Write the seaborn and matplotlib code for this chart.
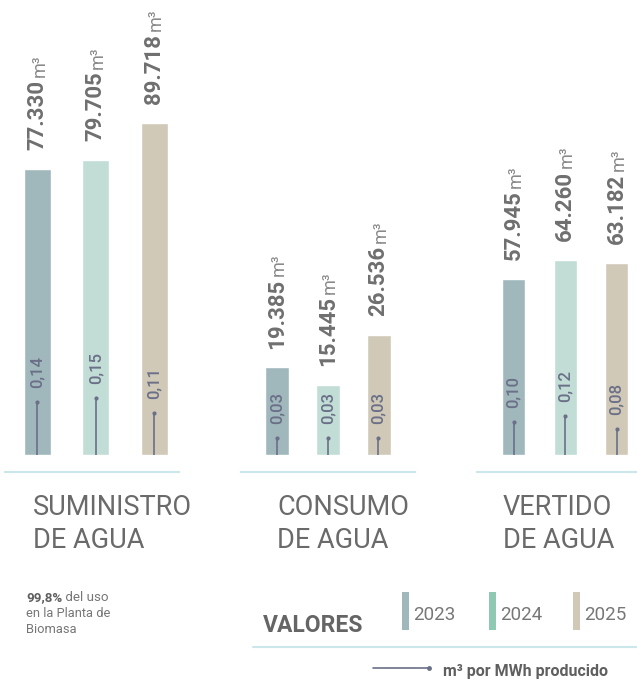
import matplotlib
matplotlib.use("Agg")
import matplotlib.pyplot as plt
import seaborn as sns
import pandas as pd
from matplotlib.patches import Rectangle
from matplotlib.lines import Line2D
from matplotlib.text import Annotation

# ---------------- data ----------------
years = ["2023", "2024", "2025"]
group_titles = ["SUMINISTRO\nDE AGUA", "CONSUMO\nDE AGUA", "VERTIDO\nDE AGUA"]
suministro_m3 = [77330, 79705, 89718]
consumo_m3 = [19385, 15445, 26536]
vertido_m3 = [57945, 64260, 63182]
suministro_mwh = [0.14, 0.15, 0.11]
consumo_mwh = [0.03, 0.03, 0.03]
vertido_mwh = [0.10, 0.12, 0.08]
note_bold = "99,8%"
note_rest = [" del uso", "en la Planta de", "Biomasa"]
legend_title = "VALORES"
legend_line_label = "m³ por MWh producido"

bar_colors = ["#a0b7bb", "#c1ddd5", "#d0c9b8"]
legend_colors = ["#a0b7bb", "#8fc8b3", "#d0c9b8"]
line_color = "#6b7088"
value_color = "#6f6f6f"
title_color = "#6a6a6a"
base_color = "#cbe7ea"

W, H = 637, 682
sns.set_theme(style="white")
plt.rcParams["font.family"] = ["Roboto", "DejaVu Sans"]

fig = plt.figure(figsize=(W / 100, H / 100), dpi=100)
fig.patch.set_facecolor("white")


def fx(px):
    return px / W


def fy(py):
    return 1 - py / H


layouts = [
    dict(left=5, right=179, centers=(37.5, 95, 154), bw=27, scale=270, k=0.00262, title_x=33),
    dict(left=241, right=415, centers=(277, 328.5, 378.5), bw=24, scale=221, k=0.00176, title_x=277),
    dict(left=477, right=637, centers=(513.5, 565.5, 616.5), bw=23, scale=329, k=0.00305, title_x=503),
]
volumes = [suministro_m3, consumo_m3, vertido_m3]
ratios = [suministro_mwh, consumo_mwh, vertido_mwh]

bottom_px = 472
zero_px = 455
pad_px = bottom_px - zero_px

for lay, vols, rats, title in zip(layouts, volumes, ratios, group_titles):
    c0, c1, c2 = lay["centers"]
    u = (c2 - c0) / 2
    ax = fig.add_axes([fx(lay["left"]), fy(bottom_px), fx(lay["right"] - lay["left"]), bottom_px / H])
    df = pd.DataFrame({"year": years, "value": vols})
    sns.barplot(data=df, x="year", y="value", hue="year", palette=bar_colors,
                legend=False, width=lay["bw"] / u, ax=ax, saturation=1)
    ax.set_xlim(-(c0 - lay["left"]) / u, 2 + (lay["right"] - c2) / u)
    s = lay["scale"]
    ax.set_ylim(-pad_px * s, zero_px * s)
    for sp in ["top", "left", "right"]:
        ax.spines[sp].set_visible(False)
    ax.spines["bottom"].set_color(base_color)
    ax.spines["bottom"].set_linewidth(1.5)
    ax.set_xticks([])
    ax.set_yticks([])
    ax.set_xlabel("")
    ax.set_ylabel("")
    ax.patch.set_alpha(0)

    for i, v in enumerate(vols):
        t = ax.annotate(f"{v:,}".replace(",", "."), xy=(i, v), xytext=(0, 13.5),
                        textcoords="offset points", rotation=90, ha="center", va="bottom",
                        fontsize=16, fontweight="bold", color=value_color)
        ax.annotate("m³", xy=(0.6, 1), xycoords=t, xytext=(0, 2),
                    textcoords="offset points", rotation=90, ha="center", va="bottom",
                    fontsize=13, fontweight="normal", color="#8a8a8a")

    ax2 = ax.twinx()
    k = lay["k"]
    ax2.set_ylim(-pad_px * k, zero_px * k)
    ax2.set_xlim(ax.get_xlim())
    xs = [0, 1, 2]
    ax2.vlines(xs, 0, rats, color=line_color, linewidth=1.2)
    ax2.scatter(xs, rats, s=9, color=line_color, zorder=3, linewidths=0)
    for i, r in enumerate(rats):
        ax2.annotate(f"{r:.2f}".replace(".", ","), xy=(i, r), xytext=(0, 10),
                     textcoords="offset points", rotation=90, ha="center", va="bottom",
                     fontsize=12, fontweight="medium", color=line_color)
    for sp in ax2.spines.values():
        sp.set_visible(False)
    ax2.set_yticks([])
    ax2.patch.set_alpha(0)

    for j, line in enumerate(title.split("\n")):
        fig.text(fx(lay["title_x"]), fy(515 + 33 * j), line, ha="left", va="baseline",
                 fontsize=19.5, fontweight="normal", color=title_color)

# note bottom-left
nb = fig.text(fx(26), fy(601), note_bold, ha="left", va="baseline", fontsize=9.6,
              fontweight="bold", color="#5e5e5e")
fig.add_artist(Annotation(note_rest[0], xy=(1, 0), xycoords=nb, xytext=(0, 0),
                          textcoords="offset points", ha="left", va="bottom",
                          fontsize=9.6, fontweight="normal", color="#767676"))
fig.text(fx(26), fy(617), note_rest[1], ha="left", va="baseline", fontsize=9.3,
         fontweight="normal", color="#767676")
fig.text(fx(26), fy(633), note_rest[2], ha="left", va="baseline", fontsize=9.3,
         fontweight="normal", color="#767676")

# legend
fig.text(fx(263), fy(632), legend_title, ha="left", va="baseline", fontsize=16.5,
         fontweight="bold", color="#656565")
leg_patch_x = [402, 489, 573]
for px, col, yr in zip(leg_patch_x, legend_colors, years):
    fig.add_artist(Rectangle((fx(px), fy(630)), fx(7), 38 / H, transform=fig.transFigure,
                             facecolor=col, edgecolor="none"))
    fig.text(fx(px + 11), fy(620), yr, ha="left", va="baseline", fontsize=13.5,
             fontweight="normal", color="#777777")
fig.add_artist(Line2D([fx(253), fx(637)], [fy(647), fy(647)], transform=fig.transFigure,
                      color=base_color, linewidth=1.5))
fig.add_artist(Line2D([fx(373), fx(429)], [fy(668), fy(668)], transform=fig.transFigure,
                      color=line_color, linewidth=1.2))
fig.add_artist(Line2D([fx(429)], [fy(668)], transform=fig.transFigure, marker="o",
                      markersize=2.5, color=line_color))
fig.text(fx(443), fy(676), legend_line_label, ha="left", va="baseline", fontsize=11.5,
         fontweight="bold", color="#5f5f5f")

fig.savefig("out.png", dpi=100, facecolor="white")
